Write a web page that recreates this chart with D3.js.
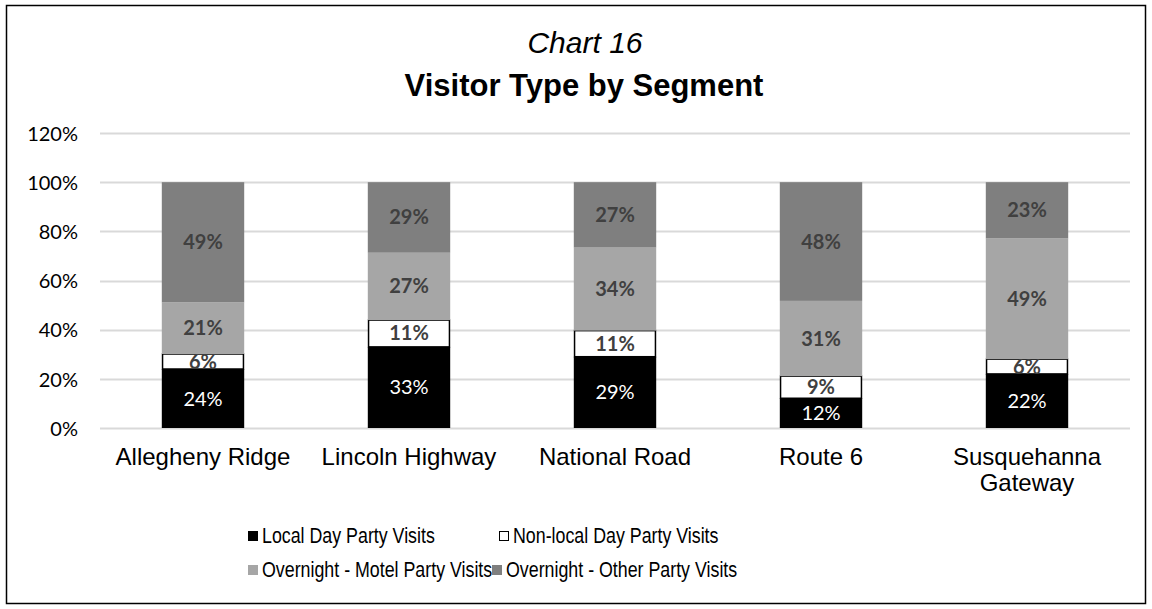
<!DOCTYPE html>
<html>
<head>
<meta charset="utf-8">
<script src="https://cdn.jsdelivr.net/npm/d3@7"></script>
<style>
  body { margin: 0; background: #fff; }
  svg { display: block; }
</style>
</head>
<body>
<svg id="chart" width="1152" height="609"></svg>
<script>
var segments = ["Allegheny Ridge", "Lincoln Highway", "National Road", "Route 6", "Susquehanna Gateway"];
var seriesNames = ["Local Day Party Visits", "Non-local Day Party Visits",
                   "Overnight - Motel Party Visits", "Overnight - Other Party Visits"];
var localDay    = [0.240, 0.330, 0.290, 0.121, 0.220];
var nonlocalDay = [0.061, 0.109, 0.106, 0.090, 0.060];
var motel       = [0.210, 0.274, 0.338, 0.306, 0.491];
var other       = [0.489, 0.287, 0.266, 0.483, 0.229];
var yTicks = [0, 0.2, 0.4, 0.6, 0.8, 1.0, 1.2];

var fills = ["#000000", "#ffffff", "#a6a6a6", "#7f7f7f"];
var labelColors = ["#ffffff", "#404040", "#404040", "#404040"];
var labelWeights = ["normal", "bold", "bold", "bold"];

var svg = d3.select("#chart");
var margin = {left: 100, right: 22, top: 133, bottom: 181};
var W = 1152, H = 609;
var arial = "Liberation Sans, Arial, sans-serif";
var calib = "Lato, Open Sans, sans-serif";

// outer frame
svg.append("rect").attr("x", 6.5).attr("y", 5.5).attr("width", 1139).attr("height", 598)
  .attr("fill", "none").attr("stroke", "#000").attr("stroke-width", 1.5);

svg.append("text").attr("x", 585).attr("y", 53).attr("text-anchor", "middle")
  .style("font-family", arial).style("font-size", "30px").style("font-style", "italic")
  .text("Chart 16");
svg.append("text").attr("x", 584).attr("y", 96).attr("text-anchor", "middle")
  .style("font-family", arial).style("font-size", "31px").style("font-weight", "bold")
  .text("Visitor Type by Segment");

var x = d3.scaleBand().domain(segments).range([margin.left, W - margin.right]).paddingInner(0.6).paddingOuter(0.3);
var y = d3.scaleLinear().domain([0, 1.2]).range([H - margin.bottom, margin.top]);

// gridlines
svg.append("g").selectAll("line").data(yTicks).enter().append("line")
  .attr("x1", margin.left).attr("x2", W - margin.right)
  .attr("y1", function(d){ return Math.round(y(d)) + 0.5; })
  .attr("y2", function(d){ return Math.round(y(d)) + 0.5; })
  .attr("stroke", "#d9d9d9").attr("stroke-width", 2);

var yAxis = svg.append("g").attr("transform", "translate(" + (margin.left - 19) + ",0)")
  .call(d3.axisLeft(y).tickValues(yTicks).tickFormat(d3.format(".0%")).tickSize(0));
yAxis.select(".domain").remove();
yAxis.selectAll("text").style("font-family", calib).style("font-size", "20px").attr("fill", "#000").attr("dy", "0.36em");

var table = segments.map(function(s, i){
  return {seg: s, a: localDay[i], b: nonlocalDay[i], c: motel[i], d: other[i]};
});
var stack = d3.stack().keys(["a", "b", "c", "d"]);
var layers = stack(table);

var g = svg.append("g");
layers.forEach(function(layer, k){
  g.selectAll(".bar" + k).data(layer).enter().append("rect")
    .attr("x", function(d){ return x(d.data.seg) + (k === 1 ? 0.75 : 0); })
    .attr("width", x.bandwidth() - (k === 1 ? 1.5 : 0))
    .attr("y", function(d){ return y(d[1]); })
    .attr("height", function(d){ return y(d[0]) - y(d[1]); })
    .attr("fill", fills[k])
    .attr("stroke", k === 1 ? "#000" : "none").attr("stroke-width", 1.5);
});
layers.forEach(function(layer, k){
  g.selectAll(".lab" + k).data(layer).enter().append("text")
    .attr("x", function(d){ return x(d.data.seg) + x.bandwidth() / 2; })
    .attr("y", function(d){ return (y(d[0]) + y(d[1])) / 2 + 7; })
    .attr("text-anchor", "middle")
    .style("font-family", calib).style("font-size", "20px")
    .style("font-weight", labelWeights[k]).attr("fill", labelColors[k])
    .text(function(d){ return d3.format(".0%")(d[1] - d[0]); });
});

// category labels
var catLines = {"Susquehanna Gateway": ["Susquehanna", "Gateway"]};
segments.forEach(function(s){
  var lines = catLines[s] || [s];
  var t = svg.append("text").attr("x", x(s) + x.bandwidth() / 2).attr("y", 465)
    .attr("text-anchor", "middle").style("font-family", arial).style("font-size", "24px");
  lines.forEach(function(l, i){
    t.append("tspan").attr("x", x(s) + x.bandwidth() / 2).attr("dy", i === 0 ? 0 : 26).text(l);
  });
});

// legend (narrow face imitated with a horizontal squeeze)
var legendPos = [[248, 543], [499, 543], [248, 577], [492, 577]];
seriesNames.forEach(function(name, k){
  var p = legendPos[k];
  svg.append("rect").attr("x", p[0] + (k === 1 ? 0.5 : 0)).attr("y", p[1] - 12 + (k === 1 ? 0.5 : 0))
    .attr("width", k === 1 ? 9 : 10).attr("height", k === 1 ? 9 : 10)
    .attr("fill", fills[k]).attr("stroke", k === 1 ? "#000" : "none").attr("stroke-width", 1);
  svg.append("text").attr("transform", "translate(" + (p[0] + 14) + "," + p[1] + ") scale(0.81,1)")
    .style("font-family", arial).style("font-size", "22px")
    .text(name);
});
</script>
</body>
</html>
